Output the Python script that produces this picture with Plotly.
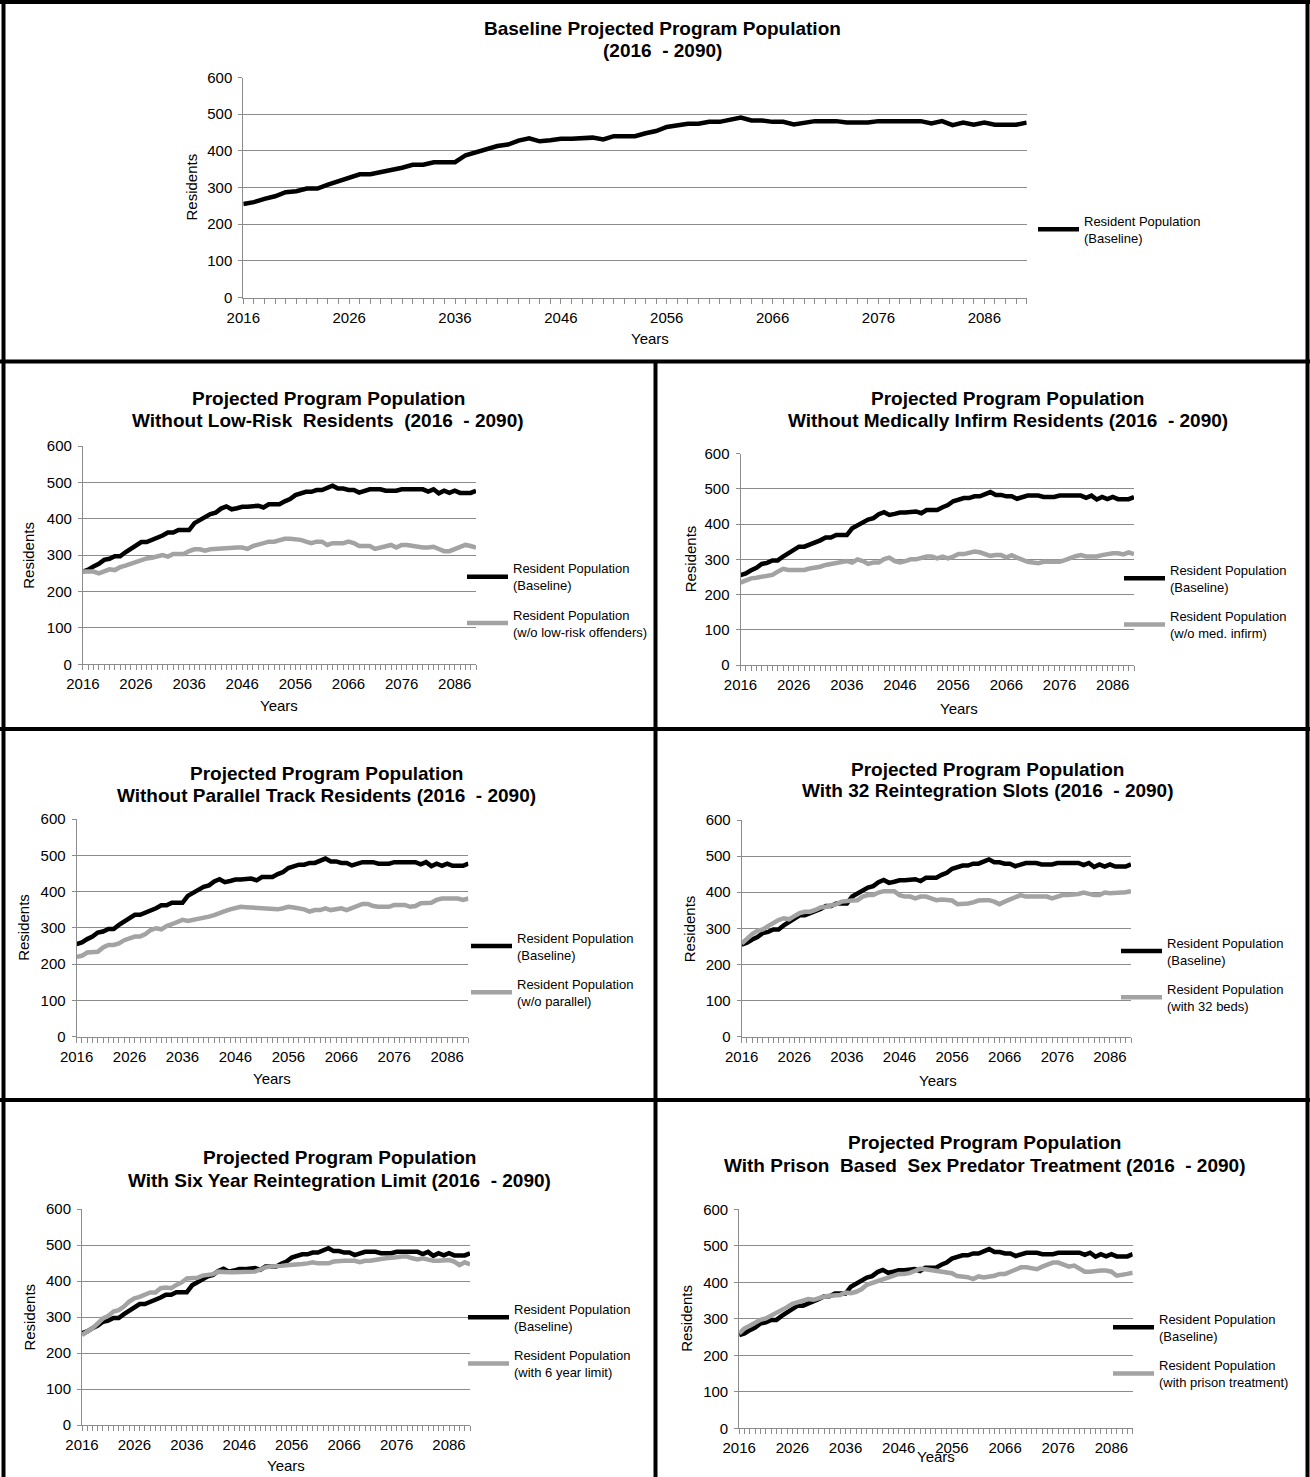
import plotly.graph_objects as go

# ---------------- data ----------------
years = list(range(2016, 2091))
x_tick_years = [2016, 2026, 2036, 2046, 2056, 2066, 2076, 2086]
y_ticks = [0, 100, 200, 300, 400, 500, 600]

baseline = [255, 260, 269, 276, 287, 290, 297, 297, 308, 317,
            326, 336, 336, 342, 346, 354, 362, 362, 369, 369,
            369, 388, 397, 406, 413, 417, 428, 434, 426, 429,
            433, 433, 436, 436, 431, 440, 440, 440, 448, 454,
            465, 470, 474, 474, 479, 479, 484, 491, 483, 483,
            479, 479, 472, 477, 481, 481, 481, 477, 477, 477,
            481, 481, 481, 481, 481, 475, 481, 470, 477, 471,
            477, 471, 471, 471, 477]

wo_low_risk = [255, 255, 255, 250, 255, 261, 259, 267, 271, 276,
               280, 287, 291, 293, 296, 300, 296, 303, 303, 303,
               311, 316, 316, 312, 316, 317, 321, 321, 323, 321,
               321, 317, 325, 330, 333, 337, 337, 341, 345, 345,
               345, 342, 337, 333, 337, 337, 328, 333, 333, 333,
               337, 333, 325, 325, 325, 317, 321, 325, 328, 321,
               328, 328, 325, 321, 321, 321, 323, 317, 311, 311,
               317, 321, 328, 325, 321]

wo_med_infirm = [234, 241, 246, 248, 251, 254, 256, 265, 273, 270,
                 270, 270, 270, 274, 276, 279, 284, 287, 287, 291,
                 295, 291, 300, 295, 287, 291, 291, 301, 305, 295,
                 291, 295, 300, 300, 305, 308, 308, 303, 308, 303,
                 308, 315, 315, 320, 322, 320, 315, 310, 312, 312,
                 305, 312, 305, 298, 293, 291, 289, 293, 293, 293,
                 293, 298, 305, 309, 312, 308, 308, 308, 312, 315,
                 317, 317, 314, 320, 315]

wo_parallel = [220, 223, 232, 234, 234, 246, 253, 253, 257, 266,
               271, 276, 276, 283, 294, 299, 296, 305, 310, 317,
               322, 319, 322, 322, 326, 331, 335, 342, 346, 351,
               354, 358, 357, 356, 354, 351, 351, 351, 351, 354,
               358, 356, 354, 351, 345, 349, 349, 354, 349, 351,
               354, 349, 354, 358, 366, 366, 360, 358, 358, 358,
               363, 363, 363, 358, 360, 368, 369, 369, 377, 381,
               381, 381, 381, 377, 381]

with_32_beds = [258, 272, 284, 293, 297, 306, 316, 323, 328, 325,
                334, 342, 346, 346, 351, 358, 360, 362, 367, 374,
                374, 377, 378, 388, 392, 392, 399, 403, 403, 403,
                392, 388, 388, 383, 388, 388, 383, 378, 380, 380,
                377, 367, 367, 369, 372, 377, 378, 378, 374, 367,
                374, 380, 383, 392, 388, 388, 388, 385, 388, 383,
                388, 392, 392, 392, 395, 399, 395, 392, 392, 399,
                397, 397, 400, 400, 403]

with_6yr_limit = [250, 259, 269, 282, 296, 303, 315, 319, 329, 343,
                  352, 356, 361, 368, 368, 380, 382, 380, 389, 396,
                  407, 407, 409, 415, 417, 419, 426, 424, 424, 424,
                  424, 424, 424, 426, 432, 438, 440, 440, 442, 444,
                  444, 447, 447, 449, 452, 449, 449, 449, 454, 456,
                  456, 456, 456, 452, 456, 456, 460, 461, 463, 466,
                  466, 468, 468, 463, 460, 463, 458, 456, 456, 458,
                  458, 454, 444, 452, 446]

with_prison_treatment = [260, 274, 281, 289, 297, 301, 308, 315, 322, 332,
                         341, 345, 352, 354, 352, 358, 361, 363, 365, 365,
                         372, 370, 374, 381, 393, 397, 402, 408, 413, 418,
                         423, 423, 425, 431, 437, 436, 434, 431, 427, 426,
                         425, 417, 417, 414, 409, 416, 413, 414, 418, 423,
                         423, 429, 434, 441, 441, 438, 436, 443, 447, 454,
                         454, 450, 443, 446, 437, 429, 429, 432, 432, 432,
                         429, 418, 422, 423, 426]

baseline_name = "Resident Population<br>(Baseline)"
title_line1 = ["Baseline Projected Program Population"] + ["Projected Program Population"] * 6
title_line2 = ["(2016\u00a0 - 2090)",
               "Without Low-Risk\u00a0 Residents\u00a0 (2016\u00a0 - 2090)",
               "Without Medically Infirm Residents (2016\u00a0 - 2090)",
               "Without Parallel Track Residents (2016\u00a0 - 2090)",
               "With 32 Reintegration Slots (2016\u00a0 - 2090)",
               "With Six Year Reintegration Limit (2016\u00a0 - 2090)",
               "With Prison\u00a0 Based\u00a0 Sex Predator Treatment (2016\u00a0 - 2090)"]
alt_series = [None, wo_low_risk, wo_med_infirm, wo_parallel, with_32_beds,
              with_6yr_limit, with_prison_treatment]
alt_names = [None,
             "Resident Population<br>(w/o low-risk offenders)",
             "Resident Population<br>(w/o med. infirm)",
             "Resident Population<br>(w/o parallel)",
             "Resident Population<br>(with 32 beds)",
             "Resident Population<br>(with 6 year limit)",
             "Resident Population<br>(with prison treatment)"]

# ---------------- layout geometry (pixels) ----------------
W, H = 1310, 1477
FONT = "Liberation Sans, Arial, Helvetica, sans-serif"
GRID = "#8c8c8c"
GREY = "#a3a3a3"

# plot area: x0, x1, y(600), y(0)
plot_px = [(243.3, 1026.7, 77.5, 297.5),
           (82.9, 476.0, 446.0, 664.3),
           (740.5, 1134.0, 453.7, 665.0),
           (76.6, 468.4, 819.0, 1036.7),
           (741.7, 1131.0, 820.0, 1036.7),
           (82.0, 470.0, 1209.0, 1425.0),
           (739.2, 1132.7, 1209.3, 1428.3)]
# title center x, line1 y, line2 y
title_px = [(662, 29, 50.5), (328, 398.3, 420), (1007.7, 398.3, 420),
            (326, 773.3, 795.7), (987.8, 769, 790.7), (339, 1157.3, 1180),
            (984.5, 1142.7, 1165)]
ytitle_px = [191, 28.6, 690, 24, 689, 28.6, 687]
xtitle_px = [(650, 339), (279, 706), (959, 708), (271.5, 1078.3),
             (937.5, 1080), (286, 1465), (936, 1456.7)]
# legend: sample line start x, first item center y
legend_px = [(1033, 229.3), (462, 576.7), (1119, 578.3), (466, 946),
             (1116, 951), (463, 1317.3), (1108, 1327.3)]


def fx(x):
    return x / W


def fy(y):
    return 1 - y / H


fig = go.Figure()
annotations = []
layout_axes = {}

for i in range(7):
    sfx = "" if i == 0 else str(i + 1)
    xa, ya = "x" + sfx, "y" + sfx
    leg = "legend" + sfx
    fig.add_trace(go.Scatter(x=years, y=baseline, mode="lines", name=baseline_name,
                             line=dict(color="#000000", width=4.5),
                             xaxis=xa, yaxis=ya, legend=leg, legendgroup="b" + sfx,
                             hoverinfo="skip"))
    if alt_series[i] is not None:
        fig.add_trace(go.Scatter(x=years, y=alt_series[i], mode="lines", name=alt_names[i],
                                 line=dict(color=GREY, width=4.5),
                                 xaxis=xa, yaxis=ya, legend=leg, legendgroup="g" + sfx,
                                 hoverinfo="skip"))
    x0, x1, yt, yb = plot_px[i]
    layout_axes["xaxis" + sfx] = dict(
        domain=[fx(x0), fx(x1)], anchor=ya, range=[2016, 2090],
        tickmode="array", tickvals=x_tick_years, ticktext=[str(v) for v in x_tick_years],
        ticks="outside", ticklen=5, tickcolor=GRID, tickwidth=1,
        minor=dict(tickmode="linear", tick0=2016, dtick=1, ticks="outside", ticklen=5,
                   tickcolor=GRID, tickwidth=1, showgrid=False),
        showline=True, linecolor=GRID, linewidth=1, showgrid=False, zeroline=False,
        tickfont=dict(family=FONT, size=15, color="#000000"), ticklabelstandoff=1,
        fixedrange=True)
    layout_axes["yaxis" + sfx] = dict(
        domain=[fy(yb), fy(yt)], anchor=xa, range=[0, 600],
        tickmode="array", tickvals=y_ticks, ticks="outside", ticklen=4, tickcolor=GRID,
        showline=True, linecolor=GRID, linewidth=1, showgrid=True, gridcolor=GRID,
        gridwidth=1, zeroline=False,
        tickfont=dict(family=FONT, size=15, color="#000000"), ticklabelstandoff=3,
        fixedrange=True)
    tx, ty1, ty2 = title_px[i]
    for txt, ty in ((title_line1[i], ty1), (title_line2[i], ty2)):
        annotations.append(dict(text="<b>" + txt + "</b>", x=fx(tx), y=fy(ty), xref="paper",
                                yref="paper", xanchor="center", yanchor="middle",
                                showarrow=False,
                                font=dict(family=FONT, size=19, color="#000000")))
    annotations.append(dict(text="Residents", x=fx(ytitle_px[i]), y=fy((yt + yb) / 2),
                            xref="paper", yref="paper", xanchor="center", yanchor="middle",
                            textangle=-90, showarrow=False,
                            font=dict(family=FONT, size=15, color="#000000")))
    annotations.append(dict(text="Years", x=fx(xtitle_px[i][0]), y=fy(xtitle_px[i][1]),
                            xref="paper", yref="paper", xanchor="center", yanchor="middle",
                            showarrow=False, font=dict(family=FONT, size=15, color="#000000")))
    lx, ly = legend_px[i]
    layout_axes[leg] = dict(x=fx(lx), xanchor="left", y=fy(ly - 23.4), yanchor="top",
                            bgcolor="rgba(0,0,0,0)", borderwidth=0, itemwidth=41,
                            tracegroupgap=9.5, traceorder="grouped",
                            font=dict(family=FONT, size=13, color="#000000"),
                            itemclick=False, itemdoubleclick=False)

# panel borders
border = dict(color="#000000", width=4)
shapes = [
    dict(type="line", xref="paper", yref="paper", x0=fx(0), x1=fx(W), y0=fy(2), y1=fy(2), line=border),
    dict(type="line", xref="paper", yref="paper", x0=fx(3.5), x1=fx(3.5), y0=fy(0), y1=fy(H), line=border),
    dict(type="line", xref="paper", yref="paper", x0=fx(1307.5), x1=fx(1307.5), y0=fy(0), y1=fy(H), line=border),
    dict(type="line", xref="paper", yref="paper", x0=fx(0), x1=fx(W), y0=fy(361.5), y1=fy(361.5), line=border),
    dict(type="line", xref="paper", yref="paper", x0=fx(0), x1=fx(W), y0=fy(729), y1=fy(729), line=border),
    dict(type="line", xref="paper", yref="paper", x0=fx(0), x1=fx(W), y0=fy(1100), y1=fy(1100), line=border),
    dict(type="line", xref="paper", yref="paper", x0=fx(655.5), x1=fx(655.5), y0=fy(361.5), y1=fy(H), line=border),
]

fig.update_layout(width=W, height=H, margin=dict(l=0, r=0, t=0, b=0, autoexpand=False),
                  paper_bgcolor="#ffffff", plot_bgcolor="#ffffff", showlegend=True,
                  annotations=annotations, shapes=shapes, font=dict(family=FONT),
                  hovermode=False, **layout_axes)

fig.write_html("out.html", config={"displayModeBar": False},
               post_script="document.body.style.margin='0';document.body.style.padding='0';")
